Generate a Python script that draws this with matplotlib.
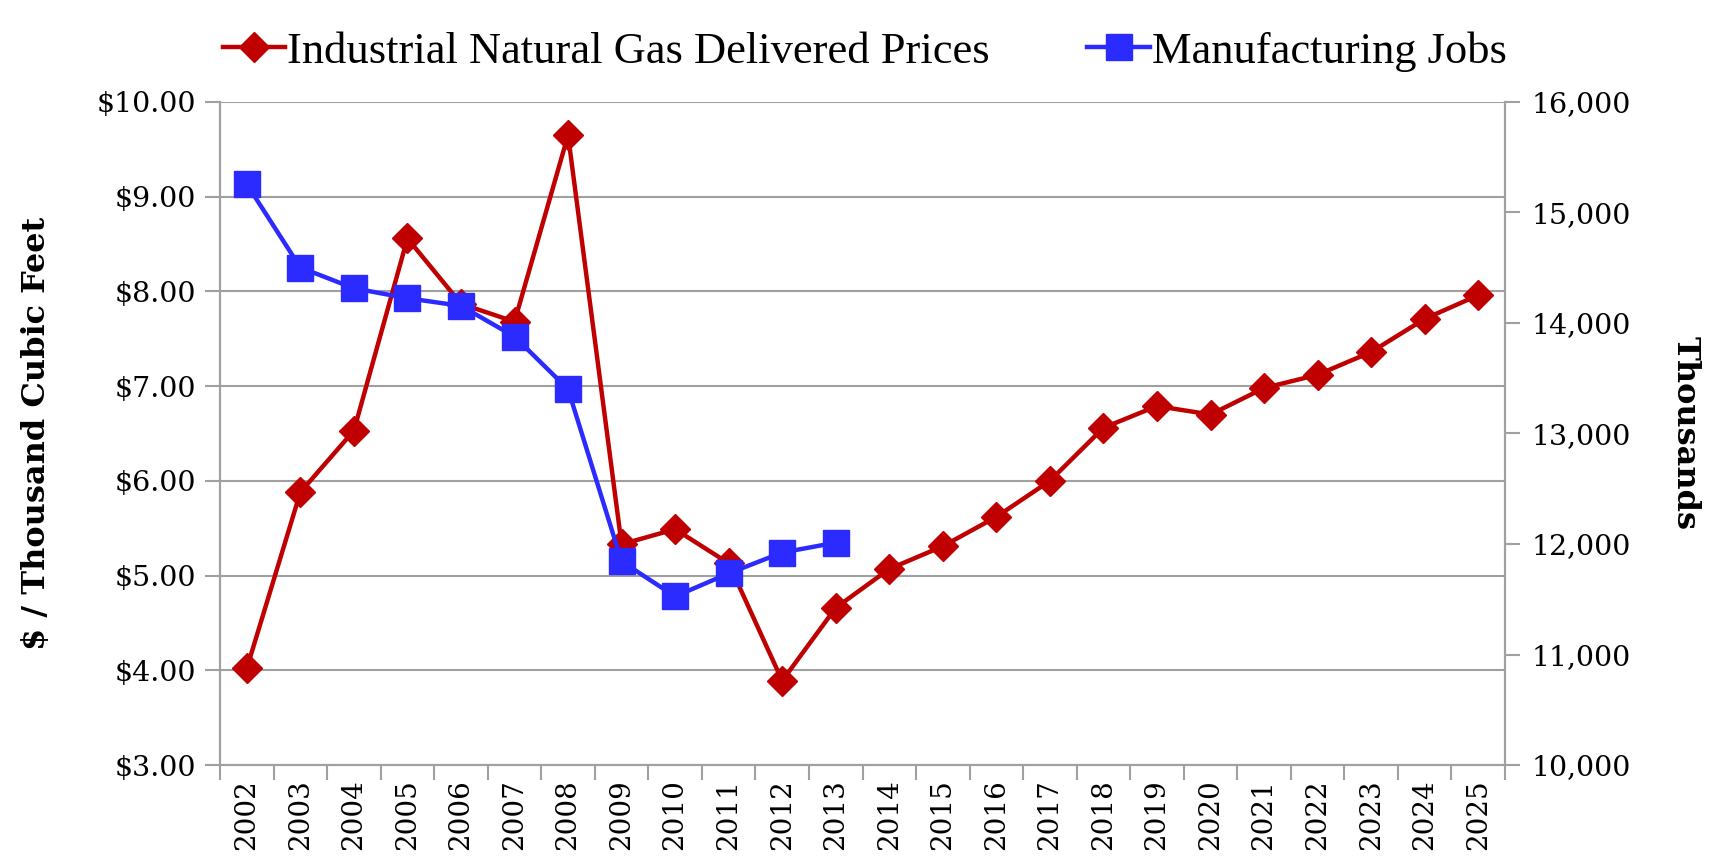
import matplotlib
matplotlib.use("Agg")
import matplotlib.pyplot as plt
from matplotlib.ticker import FuncFormatter, MultipleLocator, FixedLocator

years = [str(y) for y in range(2002, 2026)]
gas_prices = [4.02, 5.88, 6.53, 8.56, 7.87, 7.68, 9.65, 5.33, 5.49, 5.13, 3.89, 4.66,
              5.07, 5.31, 5.62, 6.00, 6.56, 6.79, 6.70, 6.98, 7.12, 7.36, 7.71, 7.96]
jobs_years = years[:12]
mfg_jobs = [15256, 14502, 14314, 14224, 14155, 13877, 13401, 11843, 11526, 11734, 11923, 12012]

RED = "#C00000"
BLUE = "#2B2BFF"
GRID = "#A0A0A0"

fig = plt.figure(figsize=(17.19, 8.67), dpi=100)
ax = fig.add_axes([0.128, 0.1176, 0.8755 - 0.128, 0.8824 - 0.1176])
ax2 = ax.twinx()

x = list(range(len(years)))
xj = list(range(len(jobs_years)))

l1, = ax.plot(x, gas_prices, color=RED, lw=3.2, marker="D", ms=15.5,
              markeredgecolor=RED, markerfacecolor=RED, zorder=3,
              label="Industrial Natural Gas Delivered Prices")
l2, = ax2.plot(xj, mfg_jobs, color=BLUE, lw=3.2, marker="s", ms=19,
               markeredgecolor=BLUE, markerfacecolor=BLUE, zorder=3,
               label="Manufacturing Jobs")

ax.set_xlim(-0.5, len(years) - 0.5)
ax.set_ylim(3, 10)
ax2.set_ylim(10000, 16000)

ax.yaxis.set_major_locator(MultipleLocator(1))
ax.yaxis.set_major_formatter(FuncFormatter(lambda v, p: f"${v:.2f}"))
ax2.yaxis.set_major_locator(MultipleLocator(1000))
ax2.yaxis.set_major_formatter(FuncFormatter(lambda v, p: f"{int(v):,}"))

ax.set_xticks([i + 0.5 for i in range(-1, len(years))], minor=False)
ax.set_xticklabels([])
ax.xaxis.set_minor_locator(FixedLocator(x))
ax.set_xticklabels(years, minor=True)
ax.tick_params(axis="x", which="major", length=11, width=1.5, color=GRID, direction="out")
ax.tick_params(axis="x", which="minor", length=0, labelrotation=90, labelsize=20, pad=10)

tick_font = "DejaVu Serif"
for lab in ax.get_xticklabels(minor=True):
    lab.set_fontfamily(tick_font)

ax.tick_params(axis="y", length=11, width=1.5, color=GRID, labelsize=20.5, pad=6)
ax2.tick_params(axis="y", length=11, width=1.5, color=GRID, labelsize=20.5, pad=8)
for lab in ax.get_yticklabels() + ax2.get_yticklabels():
    lab.set_fontfamily(tick_font)

ax.grid(axis="y", color=GRID, lw=1.5)
ax.set_axisbelow(True)

for a in (ax, ax2):
    for s in ("left", "right", "bottom"):
        a.spines[s].set_color(GRID)
        a.spines[s].set_linewidth(1.5)
    a.spines["top"].set_visible(False)

ax.set_ylabel("$ / Thousand Cubic Feet", fontsize=23, fontweight="bold",
              fontfamily="DejaVu Serif", labelpad=32)
ax2.set_ylabel("Thousands", fontsize=23, fontweight="bold",
               fontfamily="DejaVu Serif", rotation=-90, labelpad=50)

fig.legend(handles=[l1, l2], loc="upper center", bbox_to_anchor=(0.503, 1.01), ncol=2,
           frameon=False, prop={"family": "Liberation Serif", "size": 32},
           handlelength=1.4, handletextpad=0.05, columnspacing=2.2)

fig.savefig("out.png", dpi=100)
